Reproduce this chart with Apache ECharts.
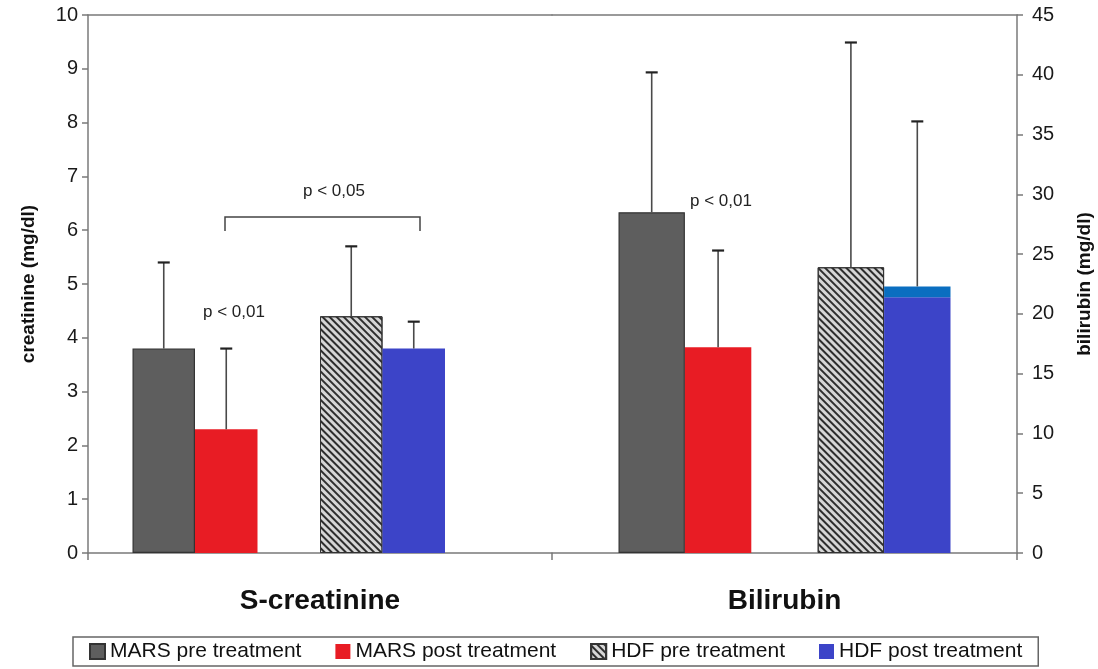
<!DOCTYPE html>
<html>
<head>
<meta charset="utf-8">
<script src="https://cdn.jsdelivr.net/npm/echarts@6/dist/echarts.min.js"></script>
<style>
html,body{margin:0;padding:0;background:#fff;}
#chart{width:1098px;height:669px;}
</style>
</head>
<body>
<div id="chart"></div>
<script>
// ---------------- data ----------------
const categories = ['S-creatinine', 'Bilirubin'];
const seriesNames = ['MARS pre treatment', 'MARS post treatment', 'HDF pre treatment', 'HDF post treatment'];
const creatinineMean = [3.8, 2.3, 4.4, 3.8];
const creatinineErrTop = [5.4, 3.8, 5.7, 4.3];
const bilirubinMean = [28.5, 17.2, 23.9, 22.3];
const bilirubinErrTop = [40.2, 25.3, 42.7, 36.1];
const bilirubinHdfPostBand = 0.9;   // darker band at top of the HDF post bilirubin bar
const creatinineTicks = [0, 1, 2, 3, 4, 5, 6, 7, 8, 9, 10];
const bilirubinTicks = [0, 5, 10, 15, 20, 25, 30, 35, 40, 45];
const annotations = ['p < 0,01', 'p < 0,05', 'p < 0,01'];

// ---------------- styles / layout ----------------
const FONT = 'Liberation Sans, Arial, sans-serif';
const barStyles = [
  { color: '#5e5e5e', borderColor: '#333', borderWidth: 1.2 },
  { color: '#e81c24' },
  { color: '#d6d6d6', borderColor: '#333', borderWidth: 1,
    decal: { symbol: 'rect', symbolSize: 1, dashArrayX: [[1, 0]], dashArrayY: [2, 2.2], rotation: Math.PI / 4, color: '#2e2e2e' } },
  { color: '#3c44c8' }
];
const slots = [0, 1, 3, 4];
const groups = [
  { mean: creatinineMean, err: creatinineErrTop, nSlots: 6, width: 62.5, ticks: creatinineTicks },
  { mean: bilirubinMean, err: bilirubinErrTop, nSlots: 5, width: 66.4, ticks: bilirubinTicks }
];

const series = [];
groups.forEach(function (g, gi) {
  for (let s = 0; s < g.nSlots; s++) {
    const k = slots.indexOf(s);
    if (k < 0) {
      series.push({ type: 'bar', name: 'spacer' + gi + s, xAxisIndex: gi, yAxisIndex: gi,
        data: ['-'], barWidth: g.width, barGap: '0%', silent: true });
      continue;
    }
    let v = g.mean[k];
    const withBand = (gi === 1 && k === 3);
    if (withBand) v = +(v - bilirubinHdfPostBand).toFixed(2);
    series.push({ type: 'bar', name: seriesNames[k], xAxisIndex: gi, yAxisIndex: gi,
      data: [v], barWidth: g.width, barGap: '0%', stack: withBand ? 'band' : undefined,
      itemStyle: barStyles[k], emphasis: { disabled: true } });
    if (withBand) {
      series.push({ type: 'bar', name: 'band', xAxisIndex: gi, yAxisIndex: gi,
        data: [bilirubinHdfPostBand], barWidth: g.width, barGap: '0%', stack: 'band',
        itemStyle: { color: '#0a6ec0' }, silent: true });
    }
  }
  // error bars
  const errData = g.mean.map(function (m, k) { return [0, m, g.err[k], slots[k]]; });
  series.push({
    type: 'custom', xAxisIndex: gi, yAxisIndex: gi, z: 5, silent: true,
    encode: { x: 0, y: [1, 2] },
    data: errData,
    renderItem: function (params, api) {
      const slot = api.value(3);
      const cx = api.coord([api.value(0), 0])[0] + (slot - (g.nSlots - 1) / 2) * g.width;
      const y0 = api.coord([0, api.value(1)])[1];
      const y1 = api.coord([0, api.value(2)])[1];
      return { type: 'group', children: [
        { type: 'line', shape: { x1: cx, y1: y0, x2: cx, y2: y1 }, style: { stroke: '#4a4a4a', lineWidth: 1.6 } },
        { type: 'line', shape: { x1: cx - 6, y1: y1, x2: cx + 6, y2: y1 }, style: { stroke: '#222', lineWidth: 2.2 } }
      ] };
    }
  });
});

const axisLineStyle = { color: '#7a7a7a', width: 1.5 };
const tickLabel = { fontFamily: FONT, fontSize: 20, color: '#1a1a1a' };

const option = {
  animation: false,
  backgroundColor: '#fff',
  grid: [
    { left: 88, right: 1098 - 552, top: 15, bottom: 669 - 553 },
    { left: 552, right: 1098 - 1017, top: 15, bottom: 669 - 553 }
  ],
  xAxis: [
    { type: 'category', gridIndex: 0, data: [categories[0]], axisLine: { lineStyle: axisLineStyle },
      axisTick: { show: true, length: 7, lineStyle: axisLineStyle },
      axisLabel: { fontFamily: FONT, fontSize: 28, fontWeight: 'bold', color: '#111', margin: 34 } },
    { type: 'category', gridIndex: 1, data: [categories[1]], axisLine: { lineStyle: axisLineStyle },
      axisTick: { show: true, length: 7, lineStyle: axisLineStyle },
      axisLabel: { fontFamily: FONT, fontSize: 28, fontWeight: 'bold', color: '#111', margin: 34 } },
    { type: 'category', gridIndex: 0, position: 'top', data: [categories[0]], axisLine: { lineStyle: axisLineStyle },
      axisTick: { show: false }, axisLabel: { show: false } },
    { type: 'category', gridIndex: 1, position: 'top', data: [categories[1]], axisLine: { lineStyle: axisLineStyle },
      axisTick: { show: false }, axisLabel: { show: false } }
  ],
  yAxis: [
    { type: 'value', gridIndex: 0, position: 'left',
      min: creatinineTicks[0], max: creatinineTicks[creatinineTicks.length - 1], interval: creatinineTicks[1] - creatinineTicks[0],
      axisLine: { show: true, lineStyle: axisLineStyle }, axisTick: { show: true, length: 6, lineStyle: axisLineStyle },
      splitLine: { show: false }, axisLabel: Object.assign({ margin: 10 }, tickLabel),
      name: 'creatinine (mg/dl)', nameLocation: 'middle', nameRotate: 90, nameGap: 50,
      nameTextStyle: { fontFamily: FONT, fontSize: 19, fontWeight: 'bold', color: '#111' } },
    { type: 'value', gridIndex: 1, position: 'right',
      min: bilirubinTicks[0], max: bilirubinTicks[bilirubinTicks.length - 1], interval: bilirubinTicks[1] - bilirubinTicks[0],
      axisLine: { show: true, lineStyle: axisLineStyle }, axisTick: { show: true, length: 6, lineStyle: axisLineStyle },
      splitLine: { show: false }, axisLabel: Object.assign({ margin: 15 }, tickLabel),
      name: 'bilirubin (mg/dl)', nameLocation: 'middle', nameRotate: 90, nameGap: 58,
      nameTextStyle: { fontFamily: FONT, fontSize: 19, fontWeight: 'bold', color: '#111' } }
  ],
  legend: {
    data: seriesNames, top: 637, left: 73, orient: 'horizontal',
    icon: 'rect', itemWidth: 15, itemHeight: 15, itemGap: 34,
    borderColor: '#666', borderWidth: 1.5, padding: [4, 16],
    textStyle: { fontFamily: FONT, fontSize: 21, color: '#111' },
    selectedMode: false
  },
  graphic: [
    { type: 'text', left: 203, top: 304, style: { text: annotations[0], font: '17px ' + FONT, fill: '#222' } },
    { type: 'text', left: 303, top: 183, style: { text: annotations[1], font: '17px ' + FONT, fill: '#222' } },
    { type: 'text', left: 690, top: 193, style: { text: annotations[2], font: '17px ' + FONT, fill: '#222' } },
    { type: 'polyline', shape: { points: [[225, 231], [225, 217], [420, 217], [420, 231]] },
      style: { stroke: '#444', lineWidth: 1.5, fill: null } }
  ],
  series: series
};

const chart = echarts.init(document.getElementById('chart'), null, { renderer: 'canvas' });
chart.setOption(option);
</script>
</body>
</html>
